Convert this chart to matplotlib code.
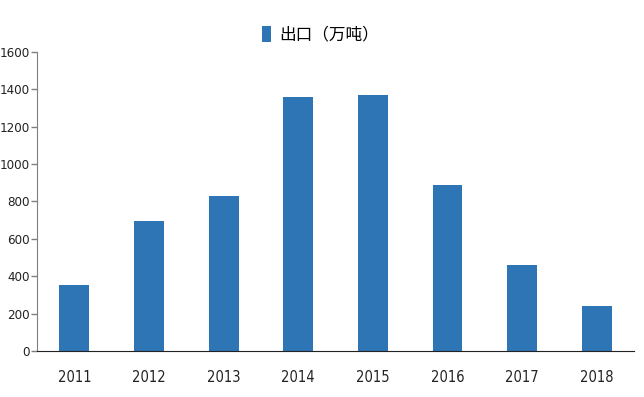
import matplotlib
matplotlib.use("Agg")
import matplotlib.pyplot as plt
from matplotlib import font_manager

years = ["2011", "2012", "2013", "2014", "2015", "2016", "2017", "2018"]
exports = [353, 696, 829, 1359, 1370, 888, 460, 241]
yticks = [0, 200, 400, 600, 800, 1000, 1200, 1400, 1600]

# prefer a narrow face for the numbers, like the original
narrow = None
for f in font_manager.fontManager.ttflist:
    if "Narrow" in f.name or str(f.stretch) in ("condensed", "semi-condensed", "600", "500"):
        if f.style == "normal" and f.weight in ("normal", 400, "regular"):
            narrow = font_manager.FontProperties(fname=f.fname, size=10.5)
            ytick_font = font_manager.FontProperties(fname=f.fname, size=9.5)
            break
if narrow is None:
    narrow = font_manager.FontProperties(family="Liberation Sans", size=9.5)
    ytick_font = font_manager.FontProperties(family="Liberation Sans", size=8.5)

fig = plt.figure(figsize=(6.44, 3.97), dpi=100)
ax = fig.add_axes([0.0575, 0.116, 0.927, 0.753])

ax.bar(range(len(years)), exports, width=0.4, color="#2e75b6", label="出口（万吨）")
ax.set_xlim(-0.5, len(years) - 0.5)
ax.set_ylim(0, 1600)
ax.set_yticks(yticks)
ax.set_xticks(range(len(years)))
ax.set_xticklabels(years, fontproperties=narrow)
ax.set_yticklabels([str(t) for t in yticks], fontproperties=ytick_font)

for s in ("top", "right"):
    ax.spines[s].set_visible(False)
ax.spines["left"].set_color("#7f7f7f")
ax.spines["bottom"].set_color("#222222")
ax.tick_params(axis="x", length=0, pad=14, colors="#222222")
ax.tick_params(axis="y", length=4, width=1, color="#7f7f7f", pad=1, labelcolor="#222222")

ax.legend(loc="lower center", bbox_to_anchor=(0.475, 0.995), frameon=False,
          prop={"family": ["Noto Sans CJK SC", "DejaVu Sans"], "size": 12},
          handlelength=0.55, handleheight=1.1, handletextpad=0.5, borderaxespad=0.2)

fig.savefig("out.png", dpi=100)
